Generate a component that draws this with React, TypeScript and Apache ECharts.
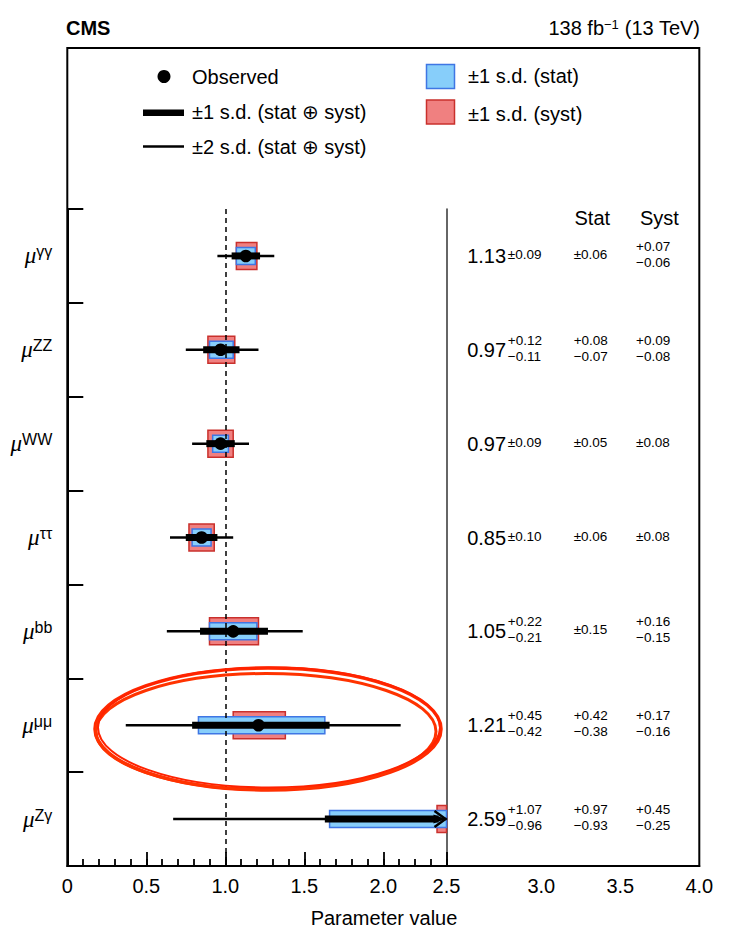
import React, { useEffect, useRef } from 'react';
import * as echarts from 'echarts';

// ---------------- data ----------------
const categories = ['γγ', 'ZZ', 'WW', 'ττ', 'bb', 'μμ', 'Zγ'];
const values = [1.13, 0.97, 0.97, 0.85, 1.05, 1.21, 2.59];
const totUp = [0.09, 0.12, 0.09, 0.10, 0.22, 0.45, 1.07];
const totDn = [0.09, 0.11, 0.09, 0.10, 0.21, 0.42, 0.96];
const statUp = [0.06, 0.08, 0.05, 0.06, 0.15, 0.42, 0.97];
const statDn = [0.06, 0.07, 0.05, 0.06, 0.15, 0.38, 0.93];
const systUp = [0.07, 0.09, 0.08, 0.08, 0.16, 0.17, 0.45];
const systDn = [0.06, 0.08, 0.08, 0.08, 0.15, 0.16, 0.25];
const tickValuesA = [0, 0.5, 1, 1.5, 2, 2.4];
const tickTextA = ['0', '0.5', '1.0', '1.5', '2.0', '2.5'];
const tickValuesB = [3, 3.5, 4];
const tickTextB = ['3.0', '3.5', '4.0'];

// ---------------- layout / style ----------------
const SANS = '"Liberation Sans", Arial, Helvetica, "DejaVu Sans", sans-serif';
const SERIF = '"Liberation Serif", "DejaVu Serif", serif';
const X_MIN = 0;
const X_MAX = 2.4;
const X_END = 4.0;
const GRID_LEFT = 67.3;
const GRID_TOP = 209;
const GRID_H = 657;
const PX_PER_UNIT = 158;
const SPLIT_X = GRID_LEFT + X_MAX * PX_PER_UNIT;
const BLUE_FILL = '#87cefa';
const BLUE_EDGE = '#3f76e4';
const RED_FILL = '#f08080';
const RED_EDGE = '#c9302c';
const COL_MAIN = 2.777;
const COL_TOT = 2.788;
const COL_STAT = 3.205;
const COL_SYST = 3.6;

const fmt = (x: number) => x.toFixed(2);

function labelFor(v: number, vals: number[], txt: string[]) {
  for (let k = 0; k < vals.length; k++) {
    if (Math.abs(v - vals[k]) < 1e-6) return txt[k];
  }
  return '';
}

const renderBars = (params: any, api: any) => {
  const i = params.dataIndex;
  const v = values[i];
  const c = api.coord([0, i])[1];
  const X = (x: number) => api.coord([Math.max(X_MIN, Math.min(x, X_MAX)), i])[0];
  const children: any[] = [];
  const box = (lo: number, hi: number, h: number, fill: string, stroke: string) => {
    if (lo >= X_MAX) return;
    const x1 = X(lo);
    const x2 = X(hi);
    children.push({
      type: 'rect',
      shape: { x: x1, y: c - h / 2, width: x2 - x1, height: h },
      style: { fill, stroke, lineWidth: 1.5 },
    });
  };
  box(v - systDn[i], v + systUp[i], 27, RED_FILL, RED_EDGE);
  box(v - statDn[i], v + statUp[i], 17, BLUE_FILL, BLUE_EDGE);
  children.push({
    type: 'line',
    shape: { x1: X(v - 2 * totDn[i]), y1: c, x2: X(v + 2 * totUp[i]), y2: c },
    style: { stroke: '#000', lineWidth: 2.5 },
  });
  const clipped = v + totUp[i] > X_MAX;
  const t1 = X(v - totDn[i]);
  let t2 = X(v + totUp[i]);
  if (clipped) t2 -= 8;
  children.push({
    type: 'rect',
    shape: { x: t1, y: c - 3.5, width: t2 - t1, height: 7 },
    style: { fill: '#000' },
  });
  if (clipped) {
    const xe = X(X_MAX);
    children.push({
      type: 'polygon',
      shape: { points: [[xe - 13, c - 4.5], [xe - 1, c], [xe - 13, c + 4.5]] },
      style: { fill: '#000' },
    });
    children.push({
      type: 'polyline',
      shape: { points: [[xe - 12, c - 8], [xe - 1, c], [xe - 12, c + 8]] },
      style: { stroke: '#000', lineWidth: 2.5, fill: 'none' },
    });
  }
  if (v <= X_MAX) {
    children.push({ type: 'circle', shape: { cx: X(v), cy: c, r: 6.3 }, style: { fill: '#000' } });
  }
  return { type: 'group', children };
};

const smallText = (x: number, y: number, text: string) => ({
  type: 'text',
  x,
  y,
  style: {
    text,
    fill: '#000',
    fontSize: 13.5,
    lineHeight: 16,
    fontFamily: SANS,
    align: 'left',
    verticalAlign: 'middle',
  },
});

const uncText = (x: number, c: number, up: number, dn: number) => {
  if (Math.abs(up - dn) < 1e-9) return smallText(x, c - 1.5, '±' + fmt(up));
  return smallText(x, c - 1.5, '+' + fmt(up) + '\n−' + fmt(dn));
};

const renderTable = (params: any, api: any) => {
  const i = params.dataIndex;
  const c = api.coord([COL_MAIN, i])[1];
  const xm = api.coord([COL_MAIN, i])[0];
  const xt = api.coord([COL_TOT, i])[0];
  const xs = api.coord([COL_STAT, i])[0];
  const xy = api.coord([COL_SYST, i])[0];
  const children: any[] = [
    {
      type: 'text',
      x: xm,
      y: c,
      style: { text: fmt(values[i]), fill: '#000', fontSize: 20, fontFamily: SANS, align: 'right', verticalAlign: 'middle' },
    },
    uncText(xt, c, totUp[i], totDn[i]),
    uncText(xs, c, statUp[i], statDn[i]),
    uncText(xy, c, systUp[i], systDn[i]),
  ];
  return { type: 'group', children };
};

const legendText = (x: number, y: number, text: string) => ({
  type: 'text',
  x,
  y,
  style: { text, fill: '#000', fontSize: 20, fontFamily: SANS, align: 'left', verticalAlign: 'middle' },
});

const option: any = {
  animation: false,
  backgroundColor: '#fff',
  grid: [
    { left: GRID_LEFT, top: GRID_TOP, width: X_MAX * PX_PER_UNIT, height: GRID_H },
    { left: SPLIT_X, top: GRID_TOP, width: (X_END - X_MAX) * PX_PER_UNIT, height: GRID_H },
  ],
  xAxis: [
    {
      type: 'value',
      gridIndex: 0,
      position: 'bottom',
      min: X_MIN,
      max: X_MAX,
      interval: 0.5,
      axisLine: { show: true, lineStyle: { color: '#000', width: 2 } },
      axisTick: { show: true, inside: true, length: 14, lineStyle: { color: '#000', width: 1.8 } },
      splitLine: { show: false },
      axisLabel: {
        showMinLabel: true,
        showMaxLabel: true,
        margin: 10,
        color: '#000',
        fontSize: 20,
        fontFamily: SANS,
        formatter: (v: number) => labelFor(v, tickValuesA, tickTextA),
      },
    },
    {
      type: 'value',
      gridIndex: 0,
      position: 'bottom',
      offset: 0,
      min: X_MIN,
      max: X_MAX,
      interval: 0.1,
      axisLine: { show: false },
      axisTick: { show: true, inside: true, length: 7, lineStyle: { color: '#000', width: 1.8 } },
      splitLine: { show: false },
      axisLabel: { show: false },
    },
    {
      type: 'value',
      gridIndex: 1,
      position: 'bottom',
      min: X_MAX,
      max: X_END,
      interval: 0.1,
      axisLine: { show: true, lineStyle: { color: '#000', width: 2 } },
      axisTick: { show: false },
      splitLine: { show: false },
      axisLabel: {
        showMinLabel: true,
        showMaxLabel: true,
        margin: 10,
        color: '#000',
        fontSize: 20,
        fontFamily: SANS,
        formatter: (v: number) => labelFor(v, tickValuesB, tickTextB),
      },
    },
  ],
  yAxis: [
    {
      type: 'category',
      gridIndex: 0,
      data: categories,
      inverse: true,
      axisLine: { show: true, lineStyle: { color: '#000', width: 2 } },
      axisTick: { show: true, inside: true, length: 16, lineStyle: { color: '#000', width: 2 } },
      splitLine: { show: false },
      axisLabel: {
        margin: 15,
        formatter: (v: string) => `{mu|μ}{sup|${v}}`,
        rich: {
          mu: { fontFamily: SERIF, fontStyle: 'italic', fontSize: 23, lineHeight: 24, color: '#000' },
          sup: { fontFamily: SANS, fontSize: 16, lineHeight: 19, verticalAlign: 'top', color: '#000' },
        },
      },
    },
    {
      type: 'category',
      gridIndex: 1,
      data: categories,
      inverse: true,
      axisLine: { show: true, lineStyle: { color: '#333', width: 1.5 } },
      axisTick: { show: false },
      axisLabel: { show: false },
      splitLine: { show: false },
    },
  ],
  series: [
    {
      type: 'scatter',
      xAxisIndex: 0,
      yAxisIndex: 0,
      data: [],
      z: 1,
      markLine: {
        silent: true,
        symbol: ['none', 'none'],
        label: { show: false },
        lineStyle: { type: [5, 4], color: '#000', width: 1.5 },
        data: [{ xAxis: 1 }],
      },
    },
    {
      type: 'custom',
      xAxisIndex: 0,
      yAxisIndex: 0,
      z: 3,
      renderItem: renderBars,
      encode: { x: 0, y: 1 },
      data: values.map((v, i) => [v, i]),
    },
    {
      type: 'custom',
      xAxisIndex: 2,
      yAxisIndex: 1,
      z: 3,
      renderItem: renderTable,
      encode: { x: 0, y: 1 },
      data: values.map((v, i) => [COL_MAIN, i]),
    },
  ],
  graphic: [
    {
      type: 'rect',
      z: 0,
      shape: { x: GRID_LEFT, y: 48, width: X_END * PX_PER_UNIT, height: GRID_TOP + GRID_H - 48 },
      style: { fill: 'none', stroke: '#000', lineWidth: 2 },
    },
    {
      type: 'text',
      x: 66,
      y: 28,
      style: { text: 'CMS', fill: '#000', fontSize: 20, fontWeight: 'bold', fontFamily: SANS, align: 'left', verticalAlign: 'middle' },
    },
    {
      type: 'text',
      x: 700,
      y: 28,
      style: {
        text: '138 fb{sup|−1} (13 TeV)',
        fill: '#000',
        fontSize: 20,
        fontFamily: SANS,
        align: 'right',
        verticalAlign: 'middle',
        rich: { sup: { fontSize: 13, fontFamily: SANS, lineHeight: 14, verticalAlign: 'top', fill: '#000' } },
      },
    },
    { type: 'circle', shape: { cx: 164, cy: 76.5, r: 6.5 }, style: { fill: '#000' } },
    legendText(192, 76.5, 'Observed'),
    { type: 'rect', shape: { x: 143, y: 109.5, width: 41, height: 6.5 }, style: { fill: '#000' } },
    legendText(192, 112, '±1 s.d. (stat ⊕ syst)'),
    { type: 'line', shape: { x1: 143, y1: 146.5, x2: 184, y2: 146.5 }, style: { stroke: '#000', lineWidth: 2.5 } },
    legendText(192, 146.5, '±2 s.d. (stat ⊕ syst)'),
    { type: 'rect', shape: { x: 426.5, y: 64.5, width: 28, height: 24 }, style: { fill: BLUE_FILL, stroke: BLUE_EDGE, lineWidth: 1.5 } },
    legendText(468, 75.5, '±1 s.d. (stat)'),
    { type: 'rect', shape: { x: 426.5, y: 100, width: 28, height: 24 }, style: { fill: RED_FILL, stroke: RED_EDGE, lineWidth: 1.5 } },
    legendText(468, 113.5, '±1 s.d. (syst)'),
    {
      type: 'text',
      x: 574.5,
      y: 218,
      style: { text: 'Stat', fill: '#000', fontSize: 20, fontFamily: SANS, align: 'left', verticalAlign: 'middle' },
    },
    {
      type: 'text',
      x: 640,
      y: 218,
      style: { text: 'Syst', fill: '#000', fontSize: 20, fontFamily: SANS, align: 'left', verticalAlign: 'middle' },
    },
    {
      type: 'text',
      x: 384,
      y: 918,
      style: { text: 'Parameter value', fill: '#000', fontSize: 20, fontFamily: SANS, align: 'center', verticalAlign: 'middle' },
    },
    {
      type: 'ellipse',
      z: 100,
      shape: { cx: 268, cy: 729, rx: 173, ry: 61 },
      style: { fill: 'none', stroke: '#ff2a00', lineWidth: 3.5 },
    },
    {
      type: 'ellipse',
      z: 100,
      shape: { cx: 266, cy: 731.5, rx: 170, ry: 58 },
      style: { fill: 'none', stroke: '#ff3300', lineWidth: 3 },
    },
    {
      type: 'ellipse',
      z: 100,
      shape: { cx: 269, cy: 727.5, rx: 171, ry: 60 },
      style: { fill: 'none', stroke: '#ff2200', lineWidth: 2 },
    },
  ],
};

export default function App() {
  const ref = useRef<HTMLDivElement>(null);
  useEffect(() => {
    const chart = echarts.init(ref.current as HTMLDivElement, null, { renderer: 'svg' });
    chart.setOption(option);
    return () => chart.dispose();
  }, []);
  return <div ref={ref} style={{ position: 'absolute', left: 0, top: 0, width: 730, height: 936 }} />;
}
